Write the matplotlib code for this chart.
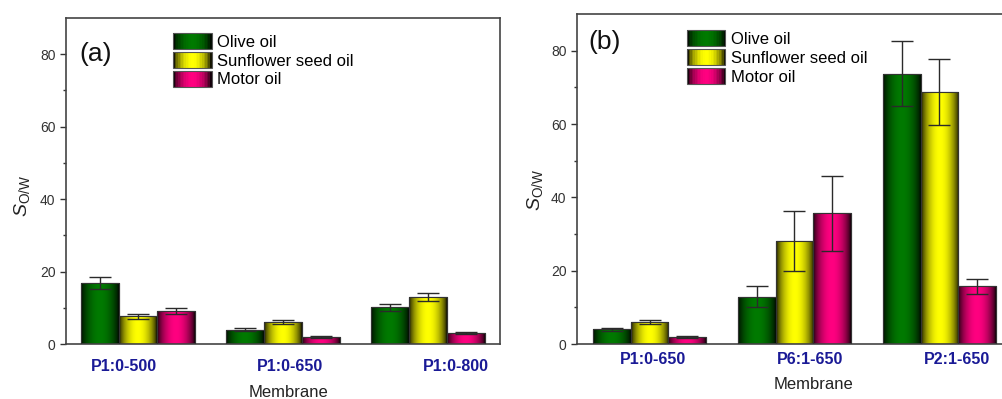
# S_O/W bar charts, panels (a) and (b)
import numpy as np
import matplotlib
matplotlib.use('Agg')
import matplotlib.pyplot as plt
from matplotlib.patches import Rectangle
from matplotlib.legend_handler import HandlerBase
from matplotlib.colors import to_rgb

plt.rcParams['font.family'] = ['Liberation Sans', 'DejaVu Sans']
plt.rcParams['mathtext.fontset'] = 'custom'
plt.rcParams['mathtext.rm'] = 'Liberation Sans'
plt.rcParams['mathtext.it'] = 'Liberation Sans:italic'

oils = ['Olive oil', 'Sunflower seed oil', 'Motor oil']
colors = ['#007a00', '#ffff00', '#ff0080']

# panel (a)
labels_a = ['P1:0-500', 'P1:0-650', 'P1:0-800']
olive_a = [16.9, 4.0, 10.1]
sun_a = [7.7, 6.0, 13.0]
motor_a = [9.2, 1.9, 3.0]
olive_a_err = [1.6, 0.4, 0.9]
sun_a_err = [0.7, 0.5, 1.2]
motor_a_err = [0.8, 0.2, 0.3]

# panel (b)
labels_b = ['P1:0-650', 'P6:1-650', 'P2:1-650']
olive_b = [4.0, 12.9, 73.7]
sun_b = [6.0, 28.1, 68.6]
motor_b = [1.9, 35.6, 15.7]
olive_b_err = [0.4, 2.9, 8.9]
sun_b_err = [0.5, 8.1, 9.0]
motor_b_err = [0.2, 10.1, 2.0]


def profile(n=64):
    t = np.linspace(0, 1, n)
    return 0.08 + 0.92 * np.sin(np.pi * t) ** 0.7


def grad_img(c, n=64):
    rgb = np.array(to_rgb(c))
    f = profile(n)
    return (f[:, None] * rgb[None, :])[None, :, :]


class GradHandler(HandlerBase):
    def create_artists(self, legend, orig_handle, xdescent, ydescent,
                       width, height, fontsize, trans):
        c = orig_handle.get_facecolor()
        n = 24
        f = profile(n)
        rgb = np.array(c[:3])
        arts = []
        for i in range(n):
            r = Rectangle((-xdescent + i * width / n, -ydescent), width / n * 1.05, height,
                          facecolor=rgb * f[i], edgecolor='none', transform=trans)
            arts.append(r)
        arts.append(Rectangle((-xdescent, -ydescent), width, height, facecolor='none',
                              edgecolor='#555555', lw=0.8, transform=trans))
        return arts


def panel(ax, series, errs, ticklabels, label_pos, tag, tag_xy, leg_xy, tick_pad, xlab_xy, ylab_xy):
    x = np.arange(1, len(ticklabels) + 1)
    w = 0.262
    handles = []
    for k, (vals, err, c) in enumerate(zip(series, errs, colors)):
        pos = x + (k - 1) * w
        bars = ax.bar(pos, vals, w, facecolor=c, edgecolor='#333333', lw=0.8, zorder=2)
        for b in bars:
            x0, y0 = b.get_x(), b.get_y()
            im = ax.imshow(grad_img(c), extent=[x0, x0 + b.get_width(), y0, y0 + b.get_height()],
                           aspect='auto', zorder=2.5, interpolation='bilinear')
            im.set_clip_path(b)
        ax.bar(pos, vals, w, fill=False, edgecolor='#333333', lw=0.8, zorder=3)
        ax.errorbar(pos, vals, yerr=err, fmt='none', ecolor='#2a2a2a', elinewidth=1.0,
                    capsize=8, capthick=1.0, zorder=4)
        handles.append(bars[0])
    ax.set_xlim(0.5, 3.5)
    ax.set_ylim(0, 90)
    ax.set_yticks([0, 20, 40, 60, 80])
    ax.set_yticks(np.arange(10, 90, 20), minor=True)
    ax.set_xticks(label_pos)
    ax.set_xticklabels(ticklabels, fontsize=11.5, fontweight='bold', color='#1a1a96')
    ax.tick_params(axis='x', length=0, pad=tick_pad)
    ax.tick_params(axis='y', which='major', length=4, width=1, labelsize=10, labelcolor='#333333', color='#333333')
    ax.tick_params(axis='y', which='minor', length=2.5, width=1, color='#333333')
    for s in ax.spines.values():
        s.set_linewidth(1.2)
        s.set_color('#444444')
    ax.set_xlabel('Membrane', fontsize=12, color='#222222')
    ax.xaxis.set_label_coords(*xlab_xy)
    ax.set_ylabel(r'$S_{\mathrm{O/W}}$', fontsize=14, color='#222222')
    ax.yaxis.set_label_coords(*ylab_xy)
    ax.text(tag_xy[0], tag_xy[1], tag, transform=ax.transAxes, fontsize=19,
            va='center', ha='left', color='#111111')
    ax.legend(handles, oils, handler_map={h: GradHandler() for h in handles},
              loc='upper left', bbox_to_anchor=leg_xy, frameon=False, fontsize=12,
              borderpad=0, borderaxespad=0, handlelength=2.3, handleheight=1.15,
              handletextpad=0.35, labelspacing=0.12)


fig = plt.figure(figsize=(10.03, 3.99), dpi=100)
ax1 = fig.add_axes([66 / 1003, 55 / 399, 434 / 1003, 326 / 399])
ax2 = fig.add_axes([577 / 1003, 55 / 399, 435 / 1003, 330 / 399])

panel(ax1, [olive_a, sun_a, motor_a], [olive_a_err, sun_a_err, motor_a_err], labels_a,
      [0.90, 2.045, 3.197], '(a)', (0.03, 0.89), (0.247, 0.955), 11, (0.512, -0.125), (-0.078, 0.454))
panel(ax2, [olive_b, sun_b, motor_b], [olive_b_err, sun_b_err, motor_b_err], labels_b,
      [1.024, 2.107, 3.12], '(b)', (0.026, 0.915), (0.253, 0.952), 6, (0.543, -0.10), (-0.074, 0.467))

fig.savefig('out.png', dpi=100)
